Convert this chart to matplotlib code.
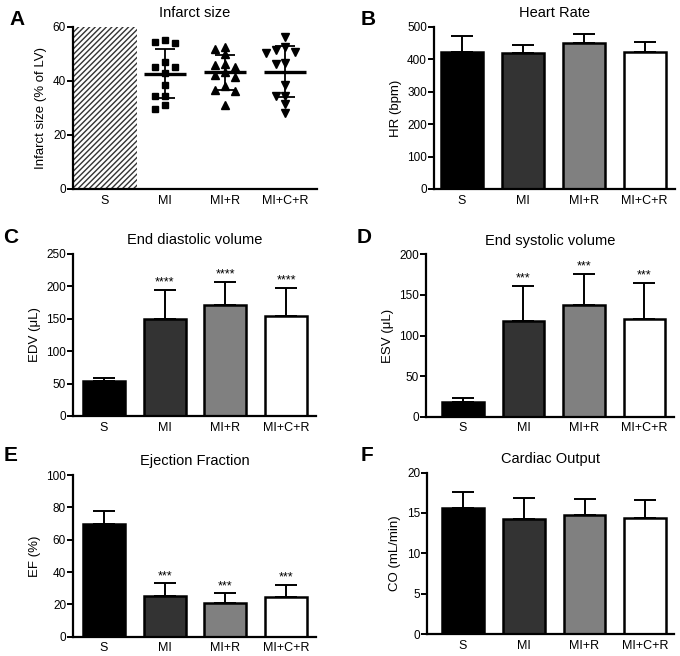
import numpy as np
import matplotlib.pyplot as plt

plt.rcParams['font.family'] = ['Liberation Sans', 'DejaVu Sans']
plt.rcParams['hatch.linewidth'] = 1.0

groups = ['S', 'MI', 'MI+R', 'MI+C+R']
bar_colors = ['black', '#333333', '#808080', 'white']

# Panel A: infarct size (% of LV), individual animals
infarct_mi = [55.0, 54.4, 54.1, 47.0, 45.0, 45.0, 42.9, 38.6, 34.6, 34.6, 31.2, 29.7]
infarct_mir = [52.4, 51.9, 50.0, 46.3, 46.0, 45.0, 43.5, 42.3, 41.3, 38.3, 36.7, 36.4, 31.2]
infarct_micr = [56.1, 52.4, 51.6, 50.7, 50.3, 46.6, 46.3, 38.6, 34.3, 34.3, 31.5, 28.1]

# Panels B-F: mean and upper SD end for S, MI, MI+R, MI+C+R
hr_mean = [424, 420, 451, 424]
hr_top = [473, 443, 477, 455]
edv_mean = [54, 149.5, 170.5, 153.5]
edv_top = [59, 194, 207, 198]
esv_mean = [17.7, 118, 138, 120]
esv_top = [22.6, 161, 176, 165]
ef_mean = [69.7, 25.2, 20.6, 24.4]
ef_top = [77.6, 33.0, 26.8, 32.0]
co_mean = [15.6, 14.2, 14.75, 14.35]
co_top = [17.6, 16.8, 16.75, 16.55]

edv_stars = ['', '****', '****', '****']
esv_stars = ['', '***', '***', '***']
ef_stars = ['', '***', '***', '***']


def style_axes(ax, ylim, yticks, ylabel, title):
    for side in ['top', 'right']:
        ax.spines[side].set_visible(False)
    for side in ['left', 'bottom']:
        ax.spines[side].set_linewidth(1.6)
    ax.set_ylim(*ylim)
    ax.set_yticks(yticks)
    ax.set_xticks(range(len(groups)))
    ax.set_xticklabels(groups)
    ax.tick_params(axis='y', direction='out', length=4, width=1.4, labelsize=8.5, pad=1)
    ax.tick_params(axis='x', length=0, labelsize=9, pad=4)
    ax.set_ylabel(ylabel, fontsize=9.5)
    ax.set_title(title, fontsize=10.5, pad=7)


def bar_panel(ax, means, tops, ylim, yticks, ylabel, title, xlim, stars=None):
    x = np.arange(len(groups))
    up = np.array(tops) - np.array(means)
    ax.errorbar(x, means, yerr=[np.zeros(len(x)), up], fmt='none', ecolor='black',
                elinewidth=1.4, capsize=8, capthick=1.4, zorder=1)
    ax.bar(x, means, width=0.69, color=bar_colors, edgecolor='black', linewidth=1.8, zorder=2)
    if stars:
        for xi, t, s in zip(x, tops, stars):
            if s:
                ax.annotate(s, (xi, t), xytext=(0, 1), textcoords='offset points',
                            ha='center', va='bottom', fontsize=9)
    ax.set_xlim(*xlim)
    style_axes(ax, ylim, yticks, ylabel, title)


def swarm(vals, step=0.08, px_per_unit=2.7):
    placed = []
    offs = []
    for v in vals:
        for k in [0, -1, 1, -2, 2, -3, 3, -4, 4]:
            hit = False
            for pv, pk in placed:
                if abs(k - pk) * step * 60 < 8 and abs(v - pv) * px_per_unit < 6:
                    hit = True
                    break
            if not hit:
                break
        placed.append((v, k))
        offs.append(k * step)
    return np.array(offs)


fig = plt.figure(figsize=(6.8, 6.56), dpi=100)

# Panel A
axA = fig.add_axes([0.1074, 0.7119, 0.3588, 0.247])
axA.bar([0], [60], width=1.06, color='white', edgecolor='#333333', linewidth=0,
        hatch='//////', zorder=0)
markers = ['s', '^', 'v']
sizes = [5, 5.5, 5.5]
for i, vals in enumerate([infarct_mi, infarct_mir, infarct_micr]):
    xc = i + 1
    xs = xc + swarm(vals)
    axA.plot(xs, vals, linestyle='none', marker=markers[i], color='black',
             markersize=sizes[i], zorder=3)
    m = np.mean(vals)
    sd = np.std(vals, ddof=1)
    axA.hlines(m, xc - 0.355, xc + 0.355, color='black', linewidth=2.4, zorder=4)
    axA.errorbar([xc], [m], yerr=[[sd], [sd]], fmt='none', ecolor='black',
                 elinewidth=1.3, capsize=7.5, capthick=1.3, zorder=4)
axA.set_xlim(-0.53, 3.53)
style_axes(axA, (0, 60), [0, 20, 40, 60], 'Infarct size (% of LV)', 'Infarct size')

# Panel B
axB = fig.add_axes([0.6382, 0.7119, 0.3544, 0.247])
bar_panel(axB, hr_mean, hr_top, (0, 500), [0, 100, 200, 300, 400, 500],
          'HR (bpm)', 'Heart Rate', (-0.46, 3.5))

# Panel C
axC = fig.add_axes([0.1074, 0.3659, 0.357, 0.247])
bar_panel(axC, edv_mean, edv_top, (0, 250), [0, 50, 100, 150, 200, 250],
          'EDV (\u03bcL)', 'End diastolic volume', (-0.51, 3.49), edv_stars)

# Panel D
axD = fig.add_axes([0.6265, 0.3648, 0.3647, 0.2474])
bar_panel(axD, esv_mean, esv_top, (0, 200), [0, 50, 100, 150, 200],
          'ESV (\u03bcL)', 'End systolic volume', (-0.61, 3.49), esv_stars)

# Panel E
axE = fig.add_axes([0.1074, 0.0294, 0.357, 0.2465])
bar_panel(axE, ef_mean, ef_top, (0, 100), [0, 20, 40, 60, 80, 100],
          'EF (%)', 'Ejection Fraction', (-0.51, 3.49), ef_stars)

# Panel F
axF = fig.add_axes([0.628, 0.0335, 0.363, 0.246])
bar_panel(axF, co_mean, co_top, (0, 20), [0, 5, 10, 15, 20],
          'CO (mL/min)', 'Cardiac Output', (-0.59, 3.47))

# panel letters
for lab, x, y in [('A', 0.014, 0.985), ('B', 0.530, 0.985),
                  ('C', 0.005, 0.653), ('D', 0.525, 0.653),
                  ('E', 0.005, 0.320), ('F', 0.530, 0.320)]:
    fig.text(x, y, lab, fontsize=15, fontweight='bold', va='top', ha='left')

fig.savefig('out.png', dpi=100)
